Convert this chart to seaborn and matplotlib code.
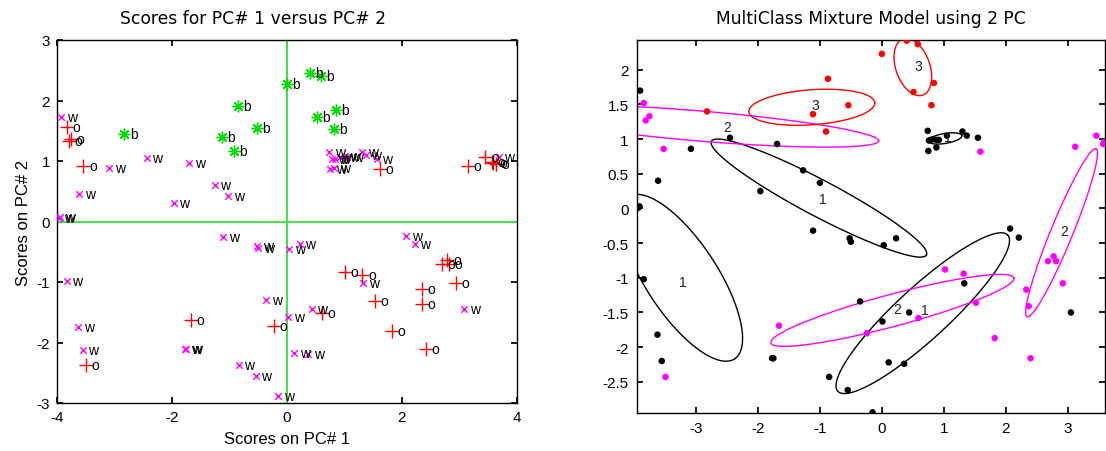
import numpy as np
import pandas as pd
import matplotlib
matplotlib.use("Agg")
import matplotlib.pyplot as plt
import seaborn as sns

# ---------------- Left panel data (PC scores) ----------------
w_x = [-3.93, -3.09, -2.44, -1.70, -3.61, -1.97, -1.26, -1.02, -3.97, -3.95,
       0.73, 0.79, 0.83, 0.92, 1.00, 1.05, 1.31, 1.37, 1.56, 0.75, 0.82,
       3.68,
       -1.11, -0.52, -0.50, 0.04, 0.22, 2.07, 2.22, -3.83, -0.36, 0.02, 1.33,
       3.08, 0.43, -3.63, -1.77, -1.75, -3.55, 0.13, 0.37, -0.84, -0.54, -0.15]
w_y = [1.72, 0.89, 1.05, 0.97, 0.45, 0.30, 0.60, 0.42, 0.05, 0.07,
       1.15, 1.04, 1.03, 1.06, 1.09, 1.07, 1.15, 1.10, 1.04, 0.86, 0.89,
       1.06,
       -0.26, -0.40, -0.43, -0.46, -0.38, -0.24, -0.38, -0.98, -1.29, -1.58, -1.02,
       -1.45, -1.45, -1.75, -2.10, -2.11, -2.13, -2.17, -2.19, -2.37, -2.56, -2.89]

o_x = [-3.83, -3.80, -3.76, -3.54, 1.61, 3.14, 3.45, 3.56, 3.59, 3.63,
       -1.67, -0.23, -3.50, 1.01, 1.31, 1.53, 2.34, 2.35, 2.69, 2.79, 2.81,
       2.94, 0.60, 1.82, 2.42]
o_y = [1.56, 1.33, 1.37, 0.91, 0.86, 0.91, 1.07, 0.99, 0.96, 0.95,
       -1.62, -1.73, -2.37, -0.83, -0.89, -1.31, -1.11, -1.36, -0.71, -0.64, -0.71,
       -1.02, -1.52, -1.81, -2.10]

b_x = [-2.83, -0.86, -0.53, -1.13, -0.92, 0.00, 0.40, 0.59, 0.85, 0.52, 0.81]
b_y = [1.44, 1.91, 1.54, 1.40, 1.17, 2.27, 2.46, 2.41, 1.85, 1.72, 1.53]

# ---------------- Right panel data (mixture model) ----------------
blk_x = [-3.90, -2.45, -3.08, -1.69, -3.61, -1.27, -1.00, -1.96, -3.93, -3.91,
         0.74, 0.79, 0.83, 0.88, 0.92, 0.76, 1.05, 1.30, 1.37, 1.55, 0.75, 0.88,
         -3.84, -3.62, -3.55, -1.77, -1.75, -1.11, -0.52, -0.50, -0.35, -0.85,
         -0.55, 0.03, 0.23, 2.07, 2.21, 1.33, 0.44, 0.01, 0.11, 0.36, 3.05, -0.15]
blk_y = [1.70, 1.02, 0.86, 0.93, 0.40, 0.55, 0.37, 0.25, 0.01, 0.03,
         1.12, 0.99, 1.00, 0.99, 0.99, 0.98, 1.05, 1.11, 1.05, 1.02, 0.83, 0.88,
         -1.02, -1.82, -2.20, -2.16, -2.16, -0.32, -0.43, -0.48, -1.34, -2.43,
         -2.62, -0.53, -0.43, -0.29, -0.42, -1.08, -1.50, -1.63, -2.22, -2.24, -1.50, -2.94]
mag_x = [-3.84, -3.75, -3.81, -3.52, 1.59, 3.12, 3.46, 3.57, 3.59, -3.49,
         -1.66, -0.24, 1.02, 1.32, 1.52, 0.59, 1.82, 2.40, 2.33, 2.37, 2.68, 2.77, 2.81, 2.92]
mag_y = [1.52, 1.33, 1.27, 0.86, 0.82, 0.89, 1.05, 0.93, 0.96, -2.43,
         -1.69, -1.80, -0.88, -0.94, -1.36, -1.58, -1.87, -2.16, -1.17, -1.41, -0.76, -0.69, -0.76, -1.08]
red_x = [-2.82, -1.11, -0.54, -0.87, -0.90, 0.00, 0.40, 0.58, 0.84, 0.51, 0.80]
red_y = [1.40, 1.36, 1.49, 1.87, 1.11, 2.23, 2.42, 2.37, 1.81, 1.68, 1.49]

# Component contours: centre, semi-axis vector A, conjugate semi-axis vector B (data units)
ell_color = ["black", "black", "black", "black", "magenta", "magenta", "magenta", "red", "red"]
ell_cx = [-1.015, -3.23, 1.02, 0.66, -2.94, 2.90, 0.17, -1.13, 0.50]
ell_cy = [0.15, -1.00, 1.01, -1.51, 1.19, -0.35, -1.47, 1.46, 2.04]
ell_ax = [1.735, 0.855, 0.27, 1.371, 2.89, 0.556, 1.96, 1.016, -0.161]
ell_ay = [-0.82, -1.169, 0.04, 1.126, -0.216, 1.212, 0.469, 0.065, 0.404]
ell_bx = [0.136, 0.486, -0.013, -0.283, 0.02, 0.164, -0.067, -0.02, 0.258]
ell_by = [0.23, 0.285, 0.071, 0.277, 0.216, -0.06, 0.223, 0.252, 0.083]

lab_text = ["3", "3", "2", "1", "1", "1", "2", "1", "2"]
lab_x = [-1.08, 0.58, -2.50, -0.96, 1.07, -3.21, 0.24, 0.69, 2.94]
lab_y = [1.49, 2.06, 1.18, 0.14, 1.03, -1.06, -1.45, -1.46, -0.32]

left_xticks = [-4, -2, 0, 2, 4]
left_yticks = [-3, -2, -1, 0, 1, 2, 3]
right_xticks = [-3, -2, -1, 0, 1, 2, 3]
right_yticks = [-2.5, -2, -1.5, -1, -0.5, 0, 0.5, 1, 1.5, 2]

# ---------------- Style ----------------
sns.set_theme(style="white")
plt.rcParams["font.family"] = ["Liberation Sans", "DejaVu Sans"]
plt.rcParams.update({
    "axes.unicode_minus": False,
    "axes.edgecolor": "black",
    "axes.linewidth": 1.0,
    "xtick.direction": "in",
    "ytick.direction": "in",
    "xtick.top": True,
    "ytick.right": True,
    "xtick.bottom": True,
    "ytick.left": True,
    "xtick.major.size": 4,
    "ytick.major.size": 4,
    "xtick.color": "black",
    "ytick.color": "black",
    "text.color": "black",
    "axes.labelcolor": "black",
})

fig = plt.figure(figsize=(11.06, 4.52), dpi=100)
axL = fig.add_axes([57 / 1106, 1 - 404 / 452, 460 / 1106, 363 / 452])
axR = fig.add_axes([637 / 1106, 1 - 414 / 452, 468 / 1106, 373 / 452])

title_font = ["DejaVu Sans"]

# ---------------- Left panel ----------------
axL.axvline(0, color="#44e044", lw=1.4, zorder=1)
axL.axhline(0, color="#44e044", lw=1.4, zorder=1)

sns.scatterplot(x=w_x, y=w_y, ax=axL, marker="x", color="magenta", s=22, linewidth=1.0, zorder=3)
sns.scatterplot(x=o_x, y=o_y, ax=axL, marker="+", color="red", s=90, linewidth=1.0, zorder=3)
sns.scatterplot(x=b_x, y=b_y, ax=axL, marker=(8, 2, 0), color="#00dd00", s=60, linewidth=1.0, zorder=3)

for xs, ys, t in [(w_x, w_y, "w"), (o_x, o_y, "o"), (b_x, b_y, "b")]:
    for x, y in zip(xs, ys):
        axL.annotate(t, (x, y), xytext=(4, 0), textcoords="offset points",
                     fontsize=10, va="center", ha="left", color="black", zorder=4)

axL.set_xlim(-4, 4)
axL.set_ylim(-3, 3)
axL.set_xticks(left_xticks)
axL.set_yticks(left_yticks)
axL.tick_params(labelsize=11, pad=5)
axL.set_xlabel("Scores on PC# 1", fontsize=12, labelpad=5)
axL.set_ylabel("Scores on PC# 2", fontsize=12, labelpad=4)
axL.set_title("Scores for PC# 1 versus PC# 2", fontsize=12.3, pad=12,
              family=title_font, x=(253 - 57) / 460)

# ---------------- Right panel ----------------
t = np.linspace(0, 2 * np.pi, 300)
for c, cx, cy, axx, ayy, bxx, byy in zip(ell_color, ell_cx, ell_cy, ell_ax, ell_ay, ell_bx, ell_by):
    ex = cx + axx * np.cos(t) + bxx * np.sin(t)
    ey = cy + ayy * np.cos(t) + byy * np.sin(t)
    axR.plot(ex, ey, color=c, lw=1.0, zorder=2)

pts = pd.DataFrame({
    "x": blk_x + mag_x + red_x,
    "y": blk_y + mag_y + red_y,
    "cls": ["k"] * len(blk_x) + ["m"] * len(mag_x) + ["r"] * len(red_x),
})
sns.scatterplot(data=pts, x="x", y="y", hue="cls", ax=axR,
                palette={"k": "black", "m": "#ff00ff", "r": "#ff0000"},
                s=22, linewidth=0, legend=False, zorder=3)

for s_, x, y in zip(lab_text, lab_x, lab_y):
    axR.text(x, y, s_, fontsize=10, ha="center", va="center", color="#222222", zorder=4)

axR.set_xlim(-3.95, 3.6)
axR.set_ylim(-2.95, 2.43)
axR.set_xticks(right_xticks)
axR.set_yticks(right_yticks)
axR.set_yticklabels([f"{v:g}" for v in right_yticks])
axR.tick_params(labelsize=11, pad=6)
axR.set_xlabel("")
axR.set_ylabel("")
axR.set_title("MultiClass Mixture Model using 2 PC", fontsize=12.3, pad=12, family=title_font)

fig.savefig("out.png", dpi=100)
